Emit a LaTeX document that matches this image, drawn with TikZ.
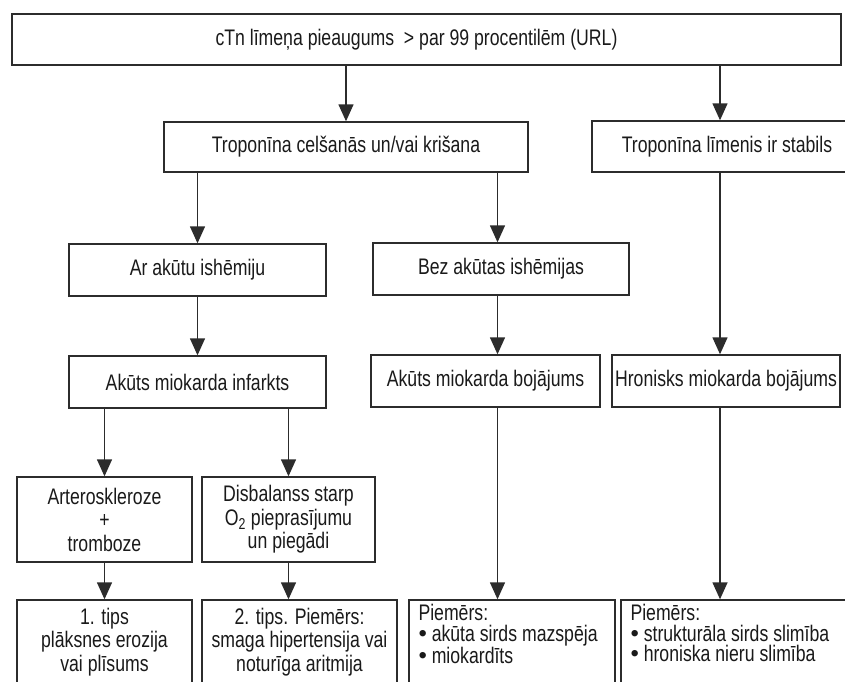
\documentclass[tikz,border=0pt]{standalone}
\usepackage{fontspec}
\setmainfont{Liberation Sans}[FakeStretch=0.785]
\usetikzlibrary{arrows.meta}
\definecolor{ln}{HTML}{2C2C2C}
\definecolor{tx}{HTML}{1A1A1A}
\newcommand{\bul}{\scalebox{1.35}[1.05]{•}}
\begin{document}
\begin{tikzpicture}[x=1pt,y=-1pt,
  box/.style={draw=ln, line width=1.4pt, rectangle, inner sep=0pt, text=tx,
    font=\fontsize{22.5}{23.5}\selectfont, align=center},
  arr/.style={draw=ln, line width=1.4pt, -{Triangle[width=15pt,length=17pt]}},
  lbl/.style={anchor=north west, inner xsep=10pt, inner ysep=5pt, align=left,
    text=tx, font=\fontsize{22.5}{20.5}\selectfont}]
\useasboundingbox (0,0) rectangle (845,681);
\clip (0,0) rectangle (845,681);
\fill[white] (0,0) rectangle (845,681);
% nodes
\node[box, minimum width=829pt, minimum height=51pt] (top) at (426.5,39.5)
  {\hspace*{-20pt}cTn līmeņa pieaugums~ > par 99 procentilēm (URL)};
\node[box, minimum width=364pt, minimum height=50pt] (rise) at (346,147)
  {Troponīna celšanās un/vai krišana};
\node[box, minimum width=270pt, minimum height=51pt] (stable) at (727,146.5)
  {Troponīna līmenis ir stabils};
\node[box, minimum width=257pt, minimum height=52pt] (isch) at (197.5,270)
  {Ar akūtu ishēmiju};
\node[box, minimum width=256pt, minimum height=52pt] (noisch) at (501,269)
  {Bez akūtas ishēmijas};
\node[box, minimum width=257pt, minimum height=52pt] (ami) at (197.5,382)
  {Akūts miokarda infarkts};
\node[box, minimum width=229pt, minimum height=52pt] (acute) at (485.5,381)
  {Akūts miokarda bojājums};
\node[box, minimum width=228pt, minimum height=52pt] (chronic) at (726,381)
  {Hronisks miokarda bojājums};
\node[box, minimum width=175pt, minimum height=85pt] (athero) at (104.5,519.5)
  {Arteroskleroze\\+\\tromboze};
\node[box, minimum width=173pt, minimum height=85pt] (imbal) at (288.5,519.5)
  {Disbalanss starp\\O\textsubscript{2} pieprasījumu\\un piegādi};
\node[box, minimum width=175pt, minimum height=84pt] (type1) at (104.5,642)
  {1. tips\\plāksnes erozija\\vai plīsums};
\node[box, minimum width=195pt, minimum height=84pt] (type2) at (299.5,642)
  {2. tips. Piemērs:\\smaga hipertensija vai\\noturīga aritmija};
\node[box, minimum width=206pt, minimum height=84pt,
  label={[lbl]north west:{Piemērs:\\\bul\ akūta sirds mazspēja\\\bul\ miokardīts}}]
  (ex1) at (512,642) {};
\node[box, minimum width=240pt, minimum height=84pt,
  label={[lbl]north west:{Piemērs:\\\bul\ strukturāla sirds slimība\\\bul\ hroniska nieru slimība}}]
  (ex2) at (741,642) {};
% column coordinates
\coordinate (colB) at (497.5,0);
\coordinate (colC) at (720,0);
% connectors
\draw[arr] (top.south -| rise.north) -- (rise.north);
\draw[arr] (top.south -| colC) -- (stable.north -| colC);
\draw[arr] (rise.south -| isch.north) -- (isch.north);
\draw[arr] (rise.south -| colB) -- (noisch.north -| colB);
\draw[arr] (isch.south) -- (ami.north);
\draw[arr] (noisch.south -| colB) -- (acute.north -| colB);
\draw[arr] (stable.south -| colC) -- (chronic.north -| colC);
\draw[arr] (ami.south -| athero.north) -- (athero.north);
\draw[arr] (ami.south -| imbal.north) -- (imbal.north);
\draw[arr] (athero.south) -- (type1.north);
\draw[arr] (imbal.south) -- (type2.north -| imbal.south);
\draw[arr] (acute.south -| colB) -- (ex1.north -| colB);
\draw[arr] (chronic.south -| colC) -- (ex2.north -| colC);
\end{tikzpicture}
\end{document}
